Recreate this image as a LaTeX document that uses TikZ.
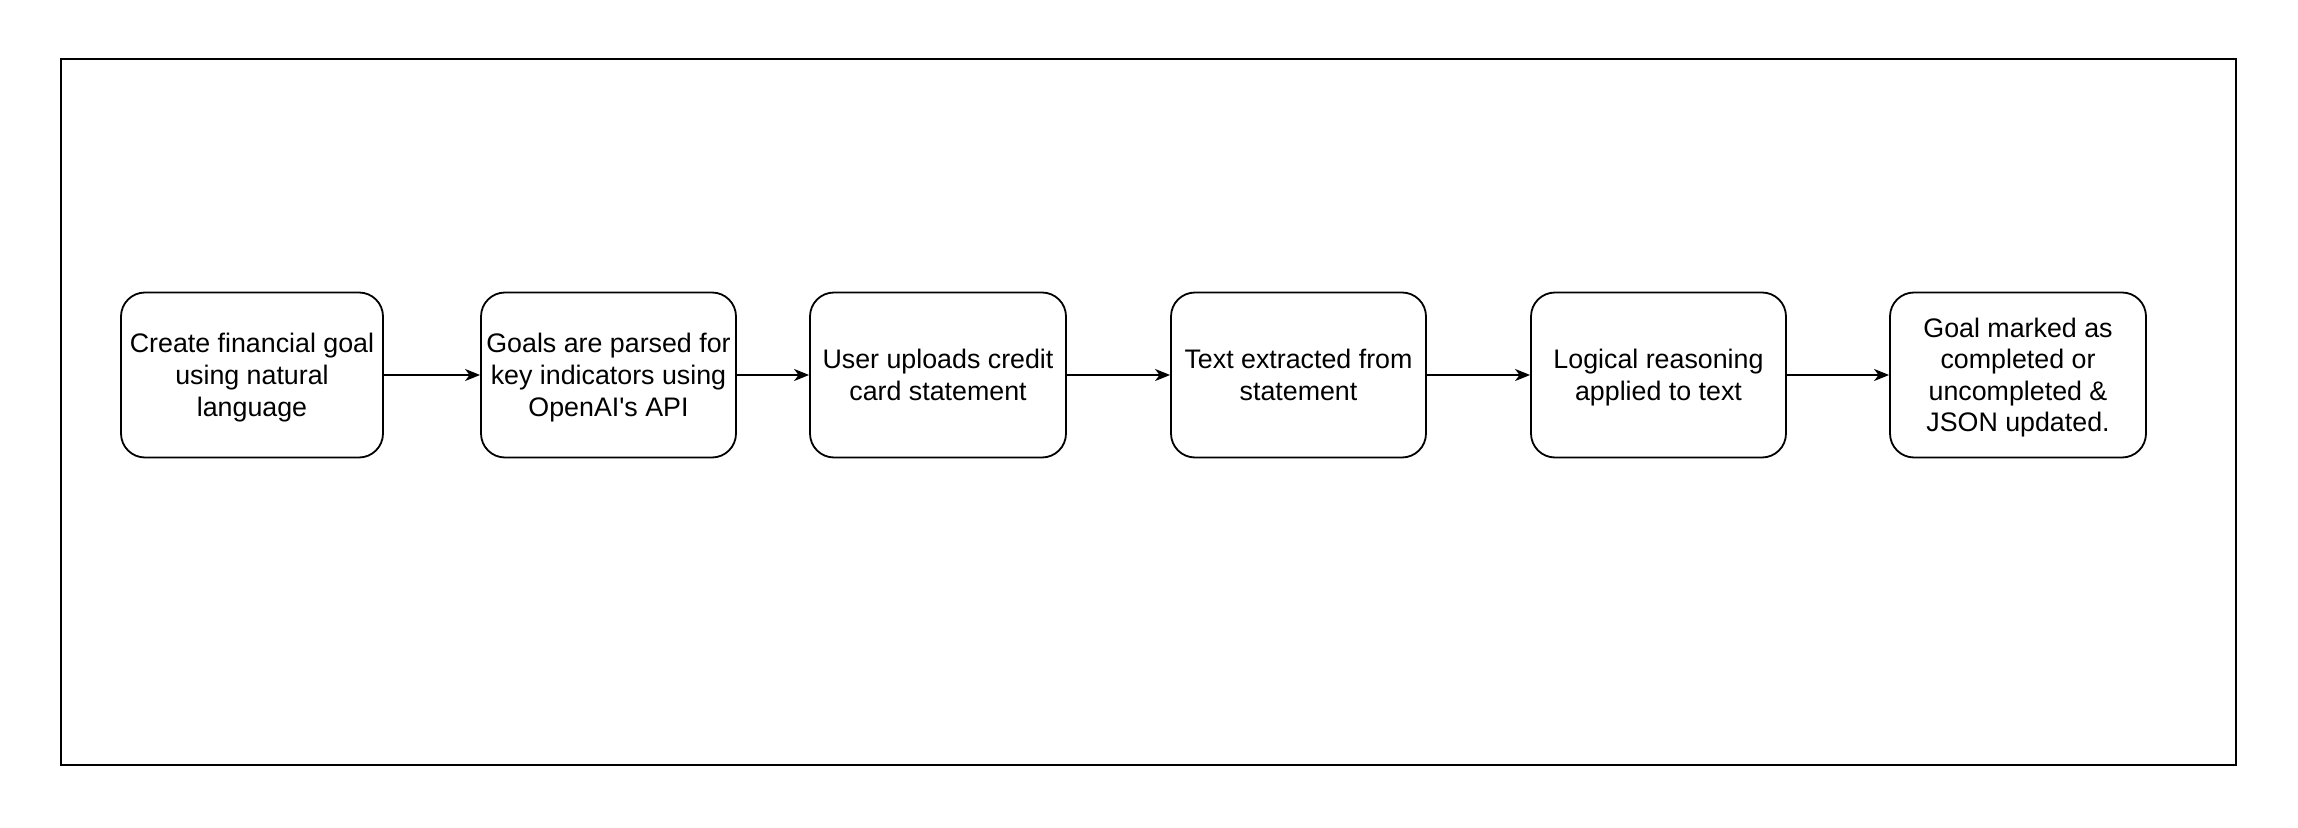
\documentclass[tikz,border=0pt]{standalone}
\usepackage{fontspec}
\setmainfont{Liberation Sans}
\usetikzlibrary{arrows.meta}
\newcommand{\tops}{\rule{0pt}{13pt}}
\newcommand{\bots}{\rule[-3.4pt]{0pt}{3.4pt}}
\begin{document}
\begin{tikzpicture}[x=0.5pt,y=-0.5pt,
  stepbox/.style={draw=black, line width=0.9pt, rounded corners=12pt, fill=white,
    minimum height=82.5pt, inner sep=0pt, align=center,
    font=\fontsize{13.4}{15.8}\selectfont},
  flow/.style={draw=black, line width=0.9pt, -{Stealth[length=7.5pt,width=6pt,inset=2.2pt]}},
  frame/.style={draw=black, line width=1pt}
]
\useasboundingbox (0,0) rectangle (2298,828);
\draw[frame] (60.5,59) rectangle (2235.5,765);
\node[stepbox, minimum width=131pt] (b1) at (252,375) {\tops Create financial goal\\using natural\\language\bots};
\node[stepbox, minimum width=127.5pt] (b2) at (608.5,375) {\tops Goals are parsed for\\key indicators using\\OpenAI\textquotesingle s API\bots};
\node[stepbox, minimum width=128pt] (b3) at (938,375) {\tops User uploads credit\\card statement\bots};
\node[stepbox, minimum width=127.5pt] (b4) at (1298.5,375) {\tops Text extracted from\\statement\bots};
\node[stepbox, minimum width=127.5pt] (b5) at (1658.5,375) {\tops Logical reasoning\\applied to text\bots};
\node[stepbox, minimum width=128pt] (b6) at (2018,375) {\tops Goal marked as\\completed or\\uncompleted \&\\JSON updated.\bots};
\draw[flow] (b1) -- (b2);
\draw[flow] (b2) -- (b3);
\draw[flow] (b3) -- (b4);
\draw[flow] (b4) -- (b5);
\draw[flow] (b5) -- (b6);
\end{tikzpicture}
\end{document}
